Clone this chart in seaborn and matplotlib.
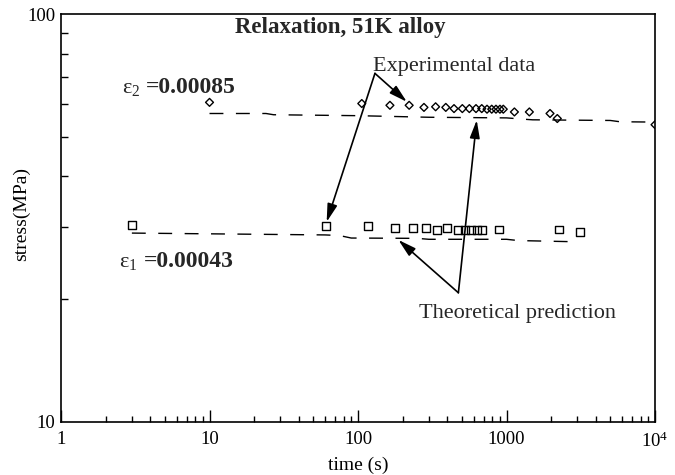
import numpy as np
import pandas as pd
import matplotlib
matplotlib.use("Agg")
import matplotlib.pyplot as plt
import seaborn as sns

# ---- data ----
upper_time = [10, 106, 164, 221, 278, 333, 390, 443, 504, 562, 623, 681, 739,
              795, 849, 903, 951, 1130, 1425, 1963, 2198, 10000]
upper_stress = [60.7, 60.3, 59.7, 59.7, 59.0, 59.2, 59.0, 58.6, 58.6, 58.6, 58.6,
                58.6, 58.4, 58.4, 58.4, 58.4, 58.4, 57.5, 57.5, 57.0, 55.4, 53.5]

lower_time = [3, 60.6, 117, 178, 233, 287, 339, 395, 474, 526, 577, 630, 681,
              895, 2258, 3126]
lower_stress = [30.3, 30.2, 30.2, 29.8, 29.8, 29.8, 29.5, 29.8, 29.5, 29.5, 29.5,
                29.5, 29.5, 29.6, 29.6, 29.2]

upper_theory_time = [10, 24, 27, 100, 300, 1000, 1300, 1500, 5000, 5800, 10000]
upper_theory_stress = [57.0, 57.0, 56.6, 56.3, 55.8, 55.6, 55.2, 55.0, 54.8, 54.4, 54.3]

lower_theory_time = [3, 60, 75, 90, 250, 300, 1000, 1200, 3100]
lower_theory_stress = [29.0, 28.7, 28.6, 28.2, 28.15, 28.0, 28.0, 27.8, 27.6]

x_tick_values = [1, 10, 100, 1000, 10000]
x_tick_labels = ["1", "10", "100", "1000", r"$\mathregular{10^4}$"]
y_tick_values = [10, 100]
y_tick_labels = ["10", "100"]

title_text = "Relaxation, 51K alloy"
eps2_symbol = r"$\mathregular{ε_2}$"
eps2_value = "=0.00085"
eps1_symbol = r"$\mathregular{ε_1}$"
eps1_value = "=0.00043"

# ---- style ----
sns.set_theme(style="ticks")
plt.rcParams["font.family"] = ["Liberation Serif", "DejaVu Serif"]
plt.rcParams["mathtext.fontset"] = "stix"
plt.rcParams["axes.linewidth"] = 1.2

fig = plt.figure(figsize=(6.75, 4.75), dpi=100)
ax = fig.add_axes([0.0904, 0.1126, 0.880, 0.8579])

df_up = pd.DataFrame({"time": upper_time, "stress": upper_stress})
df_lo = pd.DataFrame({"time": lower_time, "stress": lower_stress})
df_ut = pd.DataFrame({"time": upper_theory_time, "stress": upper_theory_stress})
df_lt = pd.DataFrame({"time": lower_theory_time, "stress": lower_theory_stress})

sns.lineplot(data=df_ut, x="time", y="stress", ax=ax, color="black", lw=1.0,
             linestyle=(0, (10, 9)), sort=True)
sns.lineplot(data=df_lt, x="time", y="stress", ax=ax, color="black", lw=1.0,
             linestyle=(0, (10, 9)), sort=True)
sns.scatterplot(data=df_up, x="time", y="stress", ax=ax, marker="D", s=16,
                facecolors="none", edgecolors="black", linewidths=1.0, zorder=3)
sns.scatterplot(data=df_lo, x="time", y="stress", ax=ax, marker="s", s=32,
                facecolors="none", edgecolors="black", linewidths=1.0, zorder=3)

ax.set_xscale("log")
ax.set_yscale("log")
ax.set_xlim(1, 10000)
ax.set_ylim(10, 100)

ax.set_xticks(x_tick_values)
ax.set_xticklabels(x_tick_labels)
ax.set_yticks(y_tick_values)
ax.set_yticklabels(y_tick_labels)
ax.xaxis.set_minor_locator(matplotlib.ticker.LogLocator(base=10, subs=np.arange(2, 10)))
ax.yaxis.set_minor_locator(matplotlib.ticker.LogLocator(base=10, subs=np.arange(2, 10)))
ax.xaxis.set_minor_formatter(matplotlib.ticker.NullFormatter())
ax.yaxis.set_minor_formatter(matplotlib.ticker.NullFormatter())
ax.tick_params(axis="both", which="both", direction="in", top=False, right=False,
               labelsize=13.5, colors="black")
ax.tick_params(axis="x", which="major", length=9, width=1.0, pad=7)
ax.tick_params(axis="x", which="minor", length=4, width=1.0)
ax.tick_params(axis="y", which="major", length=0, pad=4)
ax.tick_params(axis="y", which="minor", length=5, width=1.0)

ax.set_xlabel("time (s)", fontsize=14, color="black", labelpad=4)
ax.set_ylabel("stress(MPa)", fontsize=14, color="black")
ax.yaxis.set_label_coords(-0.052, 0.51)
for sp in ax.spines.values():
    sp.set_color("black")
    sp.set_visible(True)

ax.text(0.47, 0.966, title_text, transform=ax.transAxes, ha="center", va="center",
        fontsize=16.5, fontweight="bold")

ax.text(3.40, 64.1, eps2_symbol, ha="right", va="baseline", fontsize=16)
ax.text(3.70, 64.1, eps2_value, ha="left", va="baseline", fontsize=17, fontweight="bold")
ax.text(3.25, 23.9, eps1_symbol, ha="right", va="baseline", fontsize=16)
ax.text(3.62, 23.9, eps1_value, ha="left", va="baseline", fontsize=17, fontweight="bold")

ax.text(126, 74.5, "Experimental data", ha="left", va="center", fontsize=16)
ax.text(256, 18.45, "Theoretical prediction", ha="left", va="center", fontsize=16)

arrow = dict(arrowstyle="-|>,head_length=0.9,head_width=0.25", color="black",
             lw=1.2, shrinkA=0, shrinkB=0)
ax.annotate("", xy=(213, 60.9), xytext=(130, 71.5), arrowprops=arrow)
ax.annotate("", xy=(61.5, 30.9), xytext=(130, 71.5), arrowprops=arrow)
ax.annotate("", xy=(187, 27.9), xytext=(474, 20.7), arrowprops=arrow)
ax.annotate("", xy=(630, 54.9), xytext=(474, 20.7), arrowprops=arrow)

fig.savefig("out.png", dpi=100)
